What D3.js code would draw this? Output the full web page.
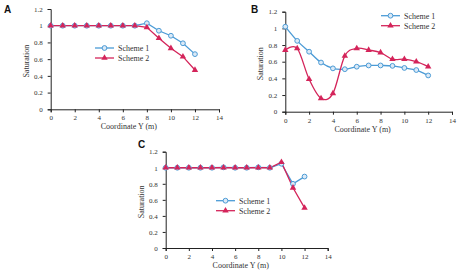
<!DOCTYPE html>
<html>
<head>
<meta charset="utf-8">
<style>
body { margin: 0; background: #fff; }
svg { display: block; }
.axis path, .axis line { stroke: #222; stroke-width: 1; fill: none; }
.axis text { font-family: "Liberation Serif", serif; font-size: 7px; fill: #333; }
.title { font-family: "Liberation Serif", serif; font-size: 8px; fill: #333; }
.legend { font-family: "Liberation Serif", serif; font-size: 8px; fill: #333; }
.letter { font-family: "Liberation Sans", Arial, sans-serif; font-size: 10px; font-weight: bold; fill: #111; }
</style>
</head>
<body>
<svg id="chart" width="474" height="278"></svg>
<script src="https://d3js.org/d3.v7.min.js"></script>
<script>

var coordY = [0, 1, 2, 3, 4, 5, 6, 7, 8, 9, 10, 11, 12];
var xTicks = [0, 2, 4, 6, 8, 10, 12, 14];
var yTicks = [0, 0.2, 0.4, 0.6, 0.8, 1, 1.2];
var seriesNames = ["Scheme 1", "Scheme 2"];

var panelA1 = [1, 1, 1, 1, 1, 1, 1, 1, 1.03, 0.94, 0.88, 0.79, 0.66];
var panelA2 = [1, 1, 1, 1, 1, 1, 1, 1, 0.98, 0.85, 0.73, 0.63, 0.47];
var panelB1 = [1.02, 0.85, 0.72, 0.59, 0.52, 0.51, 0.54, 0.555, 0.555, 0.55, 0.525, 0.5, 0.435];
var panelB2 = [0.74, 0.76, 0.39, 0.16, 0.22, 0.67, 0.76, 0.74, 0.71, 0.63, 0.63, 0.6, 0.54];
var panelC1 = [1, 1, 1, 1, 1, 1.005, 1, 1, 1.005, 1, 1.05, 0.8, 0.89];
var panelC2 = [1, 1, 1, 1, 1, 1, 1, 1, 1, 1, 1.07, 0.75, 0.5];

var blue = "#4b9bd6", red = "#d4245a";

var svg = d3.select("#chart");

function drawPanel(p) {
    var x = d3.scaleLinear().domain([0, 14]).range([p.left, p.right]);
    var y = d3.scaleLinear().domain([0, 1.2]).range([p.bottom, p.top]);
    var g = svg.append("g");

    g.append("g")
        .attr("class", "axis")
        .attr("transform", "translate(0," + p.bottom + ")")
        .call(d3.axisBottom(x).tickValues(xTicks).tickSize(3).tickPadding(3));

    g.append("g")
        .attr("class", "axis")
        .attr("transform", "translate(" + p.left + ",0)")
        .call(d3.axisLeft(y).tickValues(yTicks).tickSize(3).tickPadding(5)
            .tickFormat(function(d) { return String(+d.toFixed(1)); }));

    g.append("text").attr("class", "letter")
        .attr("x", p.letter[0]).attr("y", p.letter[1]).text(p.name);

    g.append("text").attr("class", "title")
        .attr("x", (p.left + p.right) / 2 - 6).attr("y", p.bottom + 20)
        .attr("text-anchor", "middle").text("Coordinate Y (m)");

    g.append("text").attr("class", "title")
        .attr("transform", "translate(" + (p.left - 22) + "," + ((p.top + p.bottom) / 2 + 2) + ") rotate(-90)")
        .attr("text-anchor", "middle").text("Saturation");

    var curve = p.smooth ? d3.curveCardinal.tension(0) : d3.curveLinear;
    var line = d3.line()
        .x(function(d, i) { return x(coordY[i]); })
        .y(function(d) { return y(d); })
        .curve(curve);

    // scheme 1: open circles
    g.append("path").datum(p.s1)
        .attr("d", line).attr("fill", "none")
        .attr("stroke", blue).attr("stroke-width", 1.3);
    // scheme 2: triangles
    g.append("path").datum(p.s2)
        .attr("d", line).attr("fill", "none")
        .attr("stroke", red).attr("stroke-width", 1.3);

    g.selectAll(".c1").data(p.s1).enter().append("circle")
        .attr("cx", function(d, i) { return x(coordY[i]); })
        .attr("cy", function(d) { return y(d); })
        .attr("r", 2.4).attr("fill", "#dbe9f6")
        .attr("stroke", blue).attr("stroke-width", 1);

    var tri = d3.symbol().type(d3.symbolTriangle).size(18);
    g.selectAll(".t2").data(p.s2).enter().append("path")
        .attr("d", tri)
        .attr("transform", function(d, i) { return "translate(" + x(coordY[i]) + "," + y(d) + ")"; })
        .attr("fill", red);

    // legend
    var lg = g.append("g");
    [0, 1].forEach(function(k) {
        var ly = p.legend[1] + k * 10;
        var col = k === 0 ? blue : red;
        lg.append("line").attr("x1", p.legend[0]).attr("x2", p.legend[0] + 19)
            .attr("y1", ly).attr("y2", ly).attr("stroke", col).attr("stroke-width", 1.3);
        if (k === 0) {
            lg.append("circle").attr("cx", p.legend[0] + 9.5).attr("cy", ly).attr("r", 2.4)
                .attr("fill", "#dbe9f6").attr("stroke", col);
        } else {
            lg.append("path").attr("d", tri)
                .attr("transform", "translate(" + (p.legend[0] + 9.5) + "," + ly + ")")
                .attr("fill", col);
        }
        lg.append("text").attr("class", "legend")
            .attr("x", p.legend[0] + 23).attr("y", ly + 2.8).text(seriesNames[k]);
    });
}

drawPanel({name: "A", left: 50.7, right: 219, top: 9, bottom: 109.3,
    s1: panelA1, s2: panelA2, smooth: false, letter: [4, 13], legend: [95, 48]});
drawPanel({name: "B", left: 285.3, right: 452, top: 11.7, bottom: 111.7,
    s1: panelB1, s2: panelB2, smooth: true, letter: [251, 13], legend: [381, 15.7]});
drawPanel({name: "C", left: 165.7, right: 327.7, top: 151.7, bottom: 248,
    s1: panelC1, s2: panelC2, smooth: false, letter: [138, 148], legend: [216, 200.7]});

</script>
</body>
</html>
